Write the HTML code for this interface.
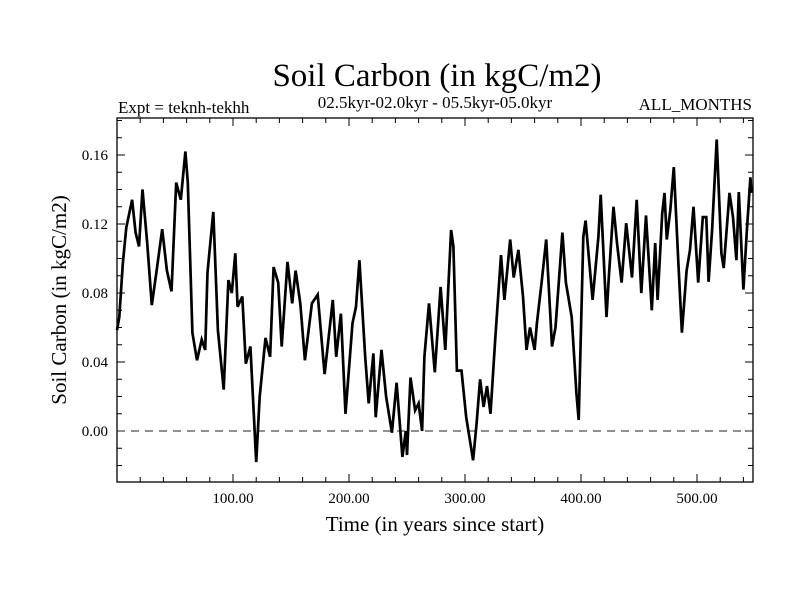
<!DOCTYPE html>
<html><head><meta charset="utf-8"><style>
html,body{margin:0;padding:0;background:#fff;}
svg text{font-family:"Liberation Serif",serif;fill:#000;}
</style></head><body>
<svg id="chart" width="800" height="600" viewBox="0 0 800 600" xmlns="http://www.w3.org/2000/svg">
<rect width="800" height="600" fill="#fff"/>
<text x="437" y="86" font-size="33" text-anchor="middle">Soil Carbon (in kgC/m2)</text>
<text x="435" y="108" font-size="17" text-anchor="middle">02.5kyr-02.0kyr - 05.5kyr-05.0kyr</text>
<text x="118" y="113" font-size="17">Expt = teknh-tekhh</text>
<text x="752" y="110" font-size="17" text-anchor="end">ALL_MONTHS</text>
<text x="435" y="531" font-size="21" text-anchor="middle">Time (in years since start)</text>
<text x="0" y="0" font-size="21" text-anchor="middle" transform="translate(66,300) rotate(-90)">Soil Carbon (in kgC/m2)</text>
<g id="axes"></g>
<g id="series"></g>
</svg>
<script>
const years=[0,2,5,8,13,16,19,22,26,30,34,39,43,47,51,55,59,61,65,69,73,76,78,83,87,92,96,99,102,104,108,111,115,120,123,128,132,135,139,142,147,151,154,158,162,168,173,179,186,189,193,197,203,206,209,214,217,221,223,228,232,237,241,246,249,250,253,257,260,263,265,269,274,279,283,288,290,293,297,301,307,310,313,316,319,322,326,331,334,339,342,346,350,353,356,360,362,366,370,375,378,384,387,392,396,398,402,404,410,415,417,422,424,428,431,435,439,444,448,452,456,461,464,466,470,472,474,477,480,484,487,491,494,497,501,505,508,510,513,517,521,523,528,531,534,536,540,543,546,547];
const values=[0.0585,0.066,0.097,0.118,0.134,0.115,0.107,0.140,0.109,0.073,0.092,0.117,0.093,0.081,0.144,0.134,0.162,0.144,0.057,0.041,0.053,0.047,0.092,0.127,0.0585,0.024,0.0875,0.080,0.103,0.072,0.078,0.039,0.049,-0.018,0.020,0.054,0.043,0.095,0.086,0.049,0.098,0.074,0.093,0.074,0.041,0.074,0.079,0.033,0.076,0.043,0.068,0.010,0.0625,0.072,0.099,0.043,0.016,0.045,0.008,0.047,0.020,-0.001,0.028,-0.015,0.0,-0.014,0.031,0.012,0.016,0.0,0.043,0.074,0.034,0.0835,0.047,0.1165,0.107,0.035,0.035,0.008,-0.017,0.0045,0.030,0.014,0.026,0.010,0.053,0.102,0.076,0.111,0.089,0.105,0.078,0.047,0.060,0.047,0.0625,0.086,0.111,0.049,0.060,0.115,0.086,0.066,0.022,0.0064,0.1125,0.122,0.076,0.1125,0.137,0.066,0.089,0.130,0.109,0.086,0.1205,0.089,0.134,0.080,0.125,0.070,0.109,0.076,0.126,0.138,0.111,0.128,0.153,0.097,0.057,0.093,0.105,0.130,0.086,0.124,0.124,0.0865,0.1165,0.169,0.103,0.0945,0.138,0.124,0.099,0.1385,0.082,0.1165,0.147,0.138];
const xTicks=[100,200,300,400,500];
const xTickLabels=["100.00","200.00","300.00","400.00","500.00"];
const yTicks=[0,0.04,0.08,0.12,0.16];
const yTickLabels=["0.00","0.04","0.08","0.12","0.16"];

const L=117,R=753,T=118,B=482;
const X0=0,X1=(R-L)/1.16;
const Y0=(431-B)/1725,Y1=(431-T)/1725;
function sx(v){return L+(v-X0)/(X1-X0)*(R-L);}
function sy(v){return B-(v-Y0)/(Y1-Y0)*(B-T);}
const NS="http://www.w3.org/2000/svg";
const axes=document.getElementById('axes');
function mk(tag,attrs,parent){const e=document.createElementNS(NS,tag);for(const k in attrs)e.setAttribute(k,attrs[k]);parent.appendChild(e);return e;}

const frame=mk('rect',{x:L,y:T,width:R-L,height:B-T,fill:'none',stroke:'#000','stroke-width':1.3},axes);



for(let v=20;v<X1;v+=20){
  const major=(v%100===0);const len=major?8:5;const x=sx(v);
  const t1=mk('line',{x1:x,y1:B,x2:x,y2:B-len,stroke:'#000','stroke-width':1},axes);
  
  
  const t2=mk('line',{x1:x,y1:T,x2:x,y2:T+len,stroke:'#000','stroke-width':1},axes);
  
  
}
xTicks.forEach((v,i)=>{
  const t=mk('text',{x:sx(v),y:B+21,'font-size':15,'text-anchor':'middle'},axes);
  t.textContent=xTickLabels[i];
  
  
});
for(let k=-2;k<=18;k++){
  const v=k*0.01;if(v<Y0||v>Y1)continue;
  const major=(k%4===0);const len=major?8:5;const y=sy(v);
  const t1=mk('line',{x1:L,y1:y,x2:L+len,y2:y,stroke:'#000','stroke-width':1},axes);
  
  
  const t2=mk('line',{x1:R,y1:y,x2:R-len,y2:y,stroke:'#000','stroke-width':1},axes);
  
  
}
yTicks.forEach((v,i)=>{
  const t=mk('text',{x:L-9,y:sy(v)+5,'font-size':15,'text-anchor':'end'},axes);
  t.textContent=yTickLabels[i];
  
  
});
const zl=mk('line',{x1:L,y1:sy(0),x2:R,y2:sy(0),stroke:'#222','stroke-width':1,'stroke-dasharray':'8,6'},axes);



const series=document.getElementById('series');
const d=years.map((yr,i)=>(i?'L':'M')+sx(yr).toFixed(1)+','+sy(values[i]).toFixed(1)).join(' ');
const p=mk('path',{d:d,fill:'none',stroke:'#000','stroke-width':2.7,'stroke-linejoin':'miter'},series);


</script>
</body></html>
